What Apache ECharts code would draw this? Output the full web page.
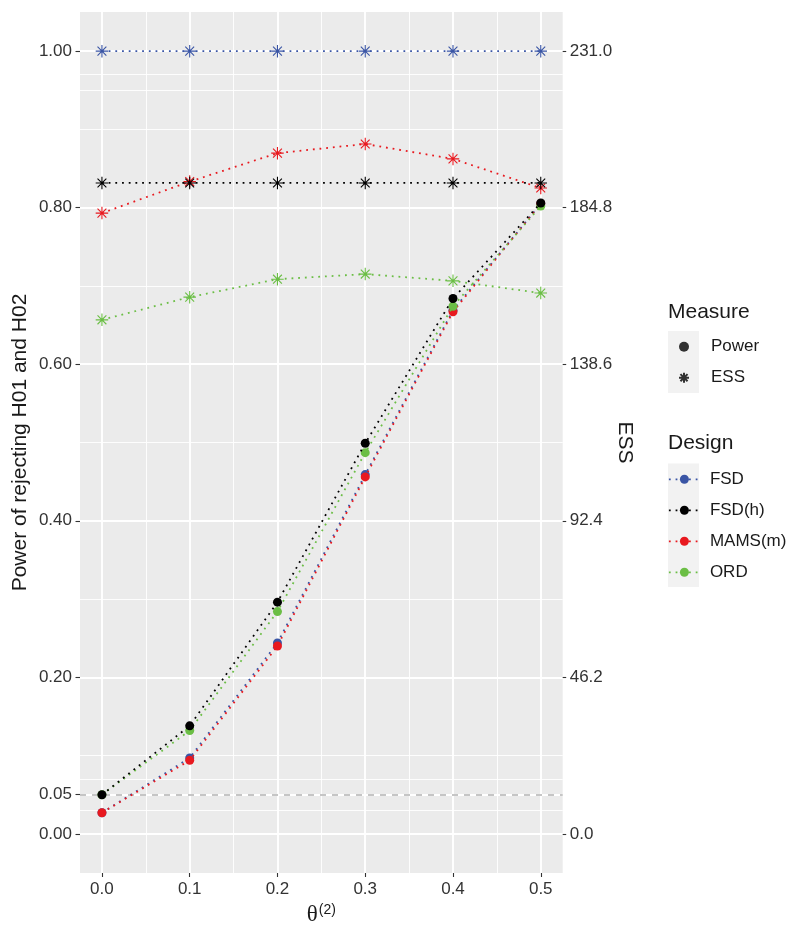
<!DOCTYPE html>
<html>
<head>
<meta charset="utf-8">
<script src="https://cdn.jsdelivr.net/npm/echarts@6/dist/echarts.min.js"></script>
<style>
  html, body { margin: 0; padding: 0; background: #ffffff; }
  #chart { width: 800px; height: 937px; }
</style>
</head>
<body>
<div id="chart"></div>
<script>
// ---- data ----
const theta = [0.0, 0.1, 0.2, 0.3, 0.4, 0.5];
const designs = ['FSD', 'FSD(h)', 'MAMS(m)', 'ORD'];
const powerFSD  = [0.027, 0.097, 0.244, 0.459, 0.669, 0.805];
const powerFSDh = [0.050, 0.138, 0.296, 0.499, 0.684, 0.806];
const powerMAMS = [0.027, 0.094, 0.240, 0.456, 0.667, 0.805];
const powerORD  = [0.050, 0.132, 0.284, 0.487, 0.674, 0.802];
const essFSD  = [231.0, 231.0, 231.0, 231.0, 231.0, 231.0];
const essFSDh = [192.1, 192.1, 192.1, 192.1, 192.1, 192.1];
const essMAMS = [183.2, 192.5, 200.9, 203.6, 199.2, 190.6];
const essORD  = [151.7, 158.4, 163.7, 165.2, 163.2, 159.6];
const xTicks = [0.0, 0.1, 0.2, 0.3, 0.4, 0.5];
const xMinor = [0.05, 0.15, 0.25, 0.35, 0.45];
const yTicks = [0.00, 0.05, 0.20, 0.40, 0.60, 0.80, 1.00];
const yMinor = [0.025, 0.075, 0.1, 0.3, 0.5, 0.7, 0.9, 0.95, 0.975];
const essTicks = [0.0, 46.2, 92.4, 138.6, 184.8, 231.0];
const alphaLine = 0.05;
const essMax = 231.0;

// ---- styling ----
const colors = { 'FSD': '#3A55A5', 'FSD(h)': '#000000', 'MAMS(m)': '#E8191F', 'ORD': '#6BBE45' };
const powerData = { 'FSD': powerFSD, 'FSD(h)': powerFSDh, 'MAMS(m)': powerMAMS, 'ORD': powerORD };
const essData = { 'FSD': essFSD, 'FSD(h)': essFSDh, 'MAMS(m)': essMAMS, 'ORD': essORD };
const drawOrder = ['FSD', 'MAMS(m)', 'ORD', 'FSD(h)'];
const asterisk = 'path://M0,-10L0,10M-10,0L10,0M-7.07,-7.07L7.07,7.07M-7.07,7.07L7.07,-7.07';
const font = 'Liberation Sans, Arial, Helvetica, sans-serif';
const dotted = [1.8, 4.9];
const yMin = -0.05, yMax = 1.05;

const chart = echarts.init(document.getElementById('chart'), null, { renderer: 'canvas' });

const series = [];
// grid lines + reference line (drawn through the axes via markLine)
series.push({
  type: 'line', name: '_grid', data: [], silent: true, z: 0,
  markLine: {
    silent: true, symbol: 'none', z: 0, animation: false, label: { show: false },
    data: [
      ...yMinor.map(v => ({ yAxis: v, lineStyle: { color: '#ffffff', width: 0.9, type: 'solid' } })),
      ...xMinor.map(v => ({ xAxis: v, lineStyle: { color: '#ffffff', width: 0.9, type: 'solid' } })),
      ...yTicks.map(v => ({ yAxis: v, lineStyle: { color: '#ffffff', width: 1.9, type: 'solid' } })),
      ...xTicks.map(v => ({ xAxis: v, lineStyle: { color: '#ffffff', width: 1.9, type: 'solid' } })),
      { yAxis: alphaLine, lineStyle: { color: '#B3B3B3', width: 1.5, type: [6, 6] } }
    ]
  }
});

// power series first (legend icon source)
drawOrder.forEach((d, i) => {
  series.push({
    type: 'line', name: d, yAxisIndex: 0, z: 3 + i,
    data: theta.map((t, k) => [t, powerData[d][k]]),
    symbol: 'circle', symbolSize: 9, showAllSymbol: true,
    itemStyle: { color: colors[d] },
    lineStyle: { color: colors[d], width: 1.8, type: dotted, cap: 'butt' },
    animation: false
  });
});
drawOrder.forEach((d, i) => {
  series.push({
    type: 'line', name: d, yAxisIndex: 1, z: 3 + i,
    data: theta.map((t, k) => [t, essData[d][k]]),
    symbol: asterisk, symbolSize: 12.5, showAllSymbol: true,
    itemStyle: { color: colors[d], borderColor: colors[d], borderWidth: 1.1 },
    lineStyle: { color: colors[d], width: 1.8, type: dotted, cap: 'butt' },
    animation: false
  });
});
// measure legend carriers
series.push({ type: 'scatter', name: 'Power', data: [], symbol: 'circle', symbolSize: 9, itemStyle: { color: '#000' } });
series.push({ type: 'scatter', name: 'ESS', data: [], symbol: asterisk, symbolSize: 11,
  itemStyle: { color: 'rgba(0,0,0,0)', borderColor: '#000', borderWidth: 0.9 } });

const option = {
  animation: false,
  backgroundColor: '#ffffff',
  textStyle: { fontFamily: font },
  grid: { left: 80, top: 12, right: 237.3, bottom: 64, show: true, backgroundColor: '#EBEBEB', borderWidth: 0, containLabel: false },
  xAxis: {
    type: 'value', min: -0.025, max: 0.525,
    axisLine: { show: false, onZero: false },
    splitLine: { show: false },
    axisTick: { show: true, customValues: xTicks, length: 4, lineStyle: { color: '#333', width: 1.1 } },
    axisLabel: { customValues: xTicks, margin: 8, fontSize: 17, color: '#333', fontFamily: font,
      formatter: v => v.toFixed(1) },
    name: '{t|θ}{s|(2)}', nameLocation: 'middle', nameGap: 30, nameMoveOverlap: false,
    nameTextStyle: { rich: {
      t: { fontSize: 23, fontFamily: 'Liberation Serif, DejaVu Serif, serif', color: '#1a1a1a', verticalAlign: 'bottom' },
      s: { fontSize: 14, fontFamily: font, color: '#1a1a1a', verticalAlign: 'top', padding: [0, 0, 0, 1] }
    } }
  },
  yAxis: [
    {
      type: 'value', min: yMin, max: yMax, position: 'left',
      axisLine: { show: false, onZero: false }, splitLine: { show: false },
      axisTick: { show: true, customValues: yTicks, length: 4.5, lineStyle: { color: '#333', width: 1.1 } },
      axisLabel: { customValues: yTicks, margin: 8, fontSize: 17, color: '#333', fontFamily: font,
        formatter: v => v.toFixed(2) },
      name: 'Power of rejecting H01 and H02', nameLocation: 'middle', nameRotate: 90, nameGap: 49,
      nameMoveOverlap: false,
      nameTextStyle: { fontSize: 21, color: '#1a1a1a', fontFamily: font }
    },
    {
      type: 'value', min: yMin * essMax, max: yMax * essMax, position: 'right',
      axisLine: { show: false, onZero: false }, splitLine: { show: false },
      axisTick: { show: true, customValues: essTicks, length: 3.5, lineStyle: { color: '#333', width: 1.1 } },
      axisLabel: { customValues: essTicks, margin: 7, fontSize: 17, color: '#333', fontFamily: font,
        formatter: v => v.toFixed(1) },
      name: 'ESS', nameLocation: 'middle', nameRotate: -90, nameGap: 52, nameMoveOverlap: false,
      nameTextStyle: { fontSize: 21, color: '#1a1a1a', fontFamily: font }
    }
  ],
  legend: [
    {
      data: ['Power', 'ESS'], orient: 'vertical', left: 678, top: 331.2, padding: 0,
      itemWidth: 10, itemHeight: 10, itemGap: 0, selectedMode: false,
      textStyle: { fontSize: 17, lineHeight: 31, color: '#1a1a1a', fontFamily: font, padding: [0, 0, 0, 17] }
    },
    {
      data: designs, orient: 'vertical', left: 668, top: 463.8, padding: 0,
      itemWidth: 31, itemHeight: 11.25, itemGap: 0, selectedMode: false,
      lineStyle: { width: 1.8, type: dotted, cap: 'butt' },
      textStyle: { fontSize: 17, lineHeight: 31, color: '#1a1a1a', fontFamily: font, padding: [0, 0, 0, 5] }
    }
  ],
  graphic: [
    { type: 'rect', z: -1, shape: { x: 668, y: 331, width: 31, height: 62 }, style: { fill: '#F2F2F2' }, silent: true },
    { type: 'rect', z: -1, shape: { x: 668, y: 463.5, width: 31, height: 123.5 }, style: { fill: '#F2F2F2' }, silent: true },
    { type: 'text', x: 668, y: 312, style: { text: 'Measure', fontSize: 21, fontFamily: font, fill: '#1a1a1a', verticalAlign: 'middle' } },
    { type: 'text', x: 668, y: 443.5, style: { text: 'Design', fontSize: 21, fontFamily: font, fill: '#1a1a1a', verticalAlign: 'middle' } }
  ],
  series: series
};
chart.setOption(option);
</script>
</body>
</html>
